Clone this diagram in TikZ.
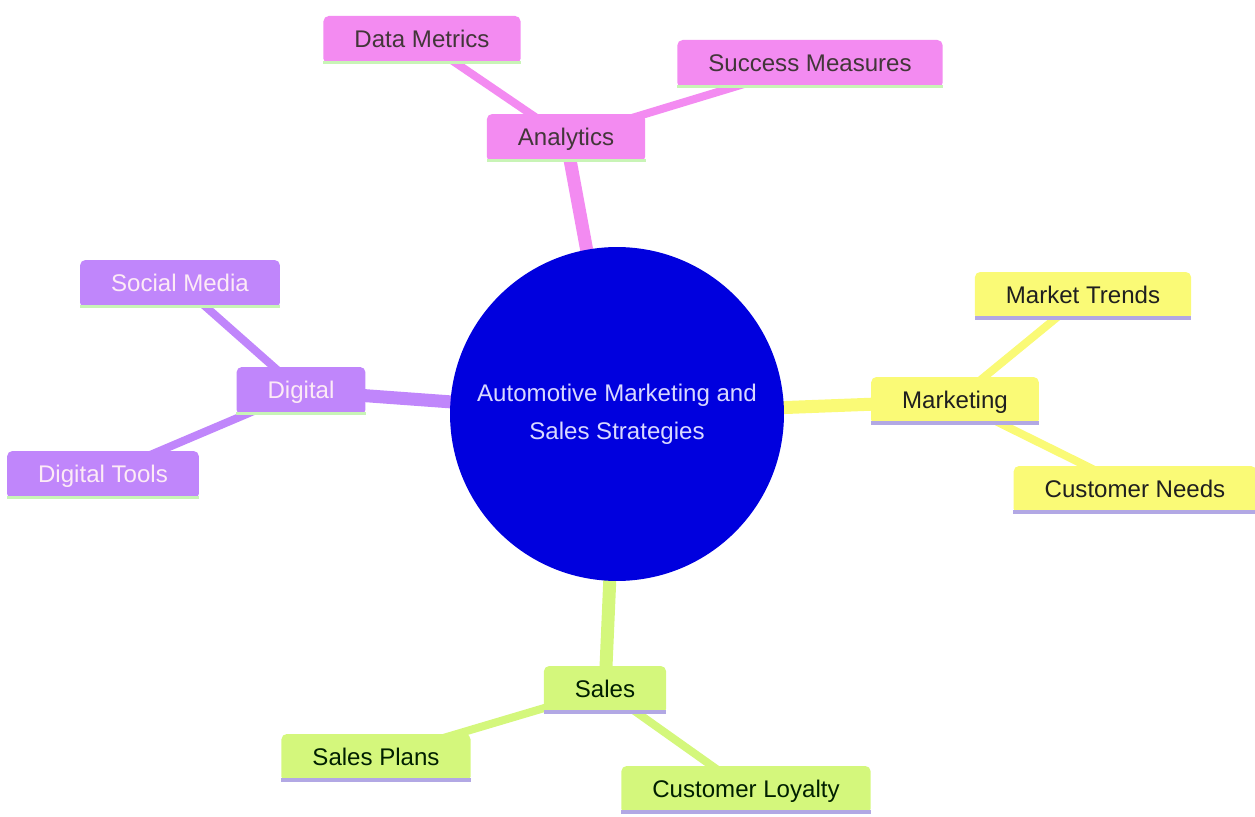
\documentclass[tikz,border=0pt]{standalone}
\usepackage{fontspec}
\setmainfont{Liberation Sans}
\usetikzlibrary{positioning,backgrounds}

\definecolor{anpink}{RGB}{243,139,241}
\definecolor{dgpurple}{RGB}{192,134,251}
\definecolor{mkyellow}{RGB}{250,250,118}
\definecolor{sllime}{RGB}{212,247,124}
\definecolor{hubblue}{RGB}{0,0,222}
\definecolor{stripgreen}{RGB}{200,244,182}
\definecolor{striplav}{RGB}{178,168,228}

\begin{document}
\begin{tikzpicture}[x=0.02cm, y=-0.02cm,
  mbox/.style={rectangle, rounded corners=3pt, inner xsep=0.62cm, minimum height=0.96cm,
               text height=1.95ex, text depth=0.35ex, font=\fontsize{13.7}{16}\selectfont},
  abox/.style={mbox, fill=anpink, text=black!80!magenta!70!black},
  dbox/.style={mbox, fill=dgpurple, text=white!92!magenta},
  kbox/.style={mbox, fill=mkyellow, text=black!88},
  sbox/.style={mbox, fill=sllime, text=black!80!green!60!black},
  hub/.style={circle, fill=hubblue, minimum size=6.68cm, align=center, text=white!85!blue,
              font=\fontsize{13.7}{21.6}\selectfont},
  trunk/.style={line width=0.26cm},
  twig/.style={line width=0.16cm}
]
\useasboundingbox (0,0) rectangle (1255,817);

%% 中心
\node[hub] (root) at (617,414) {Automotive Marketing and\\Sales Strategies};

%% Analytics
\node[abox] (ana) at (566,138) {Analytics};
\node[abox] (dm)  at (422,40)  {Data Metrics};
\node[abox] (sm)  at (810,64)  {Success Measures};

%% Digital
\node[dbox] (dig) at (301,391) {Digital};
\node[dbox] (soc) at (180,284) {Social Media};
\node[dbox] (dt)  at (103,475) {Digital Tools};

%% Marketing
\node[kbox] (mkt) at (955,401) {Marketing};
\node[kbox] (mt)  at (1083,296) {Market Trends};
\node[kbox] (cn)  at (1135,490) {Customer Needs};

%% Sales
\node[sbox] (sal) at (605,690) {Sales};
\node[sbox] (sp)  at (376,758) {Sales Plans};
\node[sbox] (cl)  at (746,790) {Customer Loyalty};

%% 底邊色條
\foreach \n in {ana,dm,sm,dig,soc,dt}
  \fill[stripgreen] ([yshift=0.07cm]\n.south west) rectangle (\n.south east);
\foreach \n in {mkt,mt,cn,sal,sp,cl}
  \fill[striplav] ([yshift=0.08cm]\n.south west) rectangle (\n.south east);

%% 連線（畫在底層）
\begin{scope}[on background layer]
  \draw[trunk, anpink]   (root.center) -- (ana.center);
  \draw[twig,  anpink]   (ana.center) -- (dm.center);
  \draw[twig,  anpink]   (ana.center) -- (sm.center);
  \draw[trunk, dgpurple] (root.center) -- (dig.center);
  \draw[twig,  dgpurple] (dig.center) -- (soc.center);
  \draw[twig,  dgpurple] (dig.center) -- (dt.center);
  \draw[trunk, mkyellow] (root.center) -- (mkt.center);
  \draw[twig,  mkyellow] (mkt.center) -- (mt.center);
  \draw[twig,  mkyellow] (mkt.center) -- (cn.center);
  \draw[trunk, sllime]   (root.center) -- (sal.center);
  \draw[twig,  sllime]   (sal.center) -- (sp.center);
  \draw[twig,  sllime]   (sal.center) -- (cl.center);
\end{scope}

\end{tikzpicture}
\end{document}
